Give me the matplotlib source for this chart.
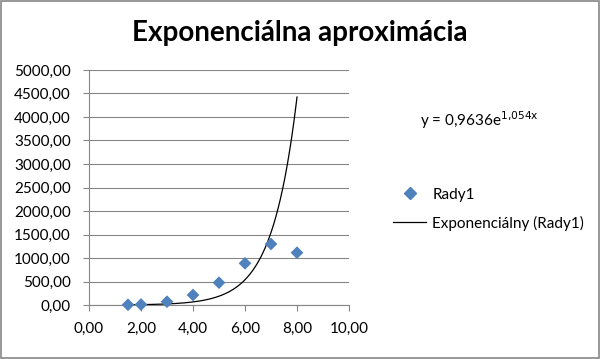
import numpy as np
import matplotlib.pyplot as plt
from matplotlib.ticker import FuncFormatter
from matplotlib.lines import Line2D

# data
x_vals = [1.5, 2, 3, 4, 5, 6, 7, 8]
y_vals = [5, 10, 70, 213, 475, 887, 1298, 1113]

# trendline coefficients as printed on the chart
coef_a = 0.9636
coef_b = 1.054

plt.rcParams['font.family'] = ['Lato', 'DejaVu Sans']


def comma_fmt(v, pos):
    return f"{v:.2f}".replace(".", ",")


fig = plt.figure(figsize=(6, 3.59), dpi=100)
ax = fig.add_axes([89/600, 1 - 305/359, 260/600, 235/359])

xt = np.linspace(min(x_vals), max(x_vals), 300)
ax.plot(xt, coef_a*np.exp(coef_b*xt), color="black", lw=0.9, zorder=3)
ax.scatter(x_vals, y_vals, marker="D", s=42, color="#4F81BD", zorder=4,
           edgecolors="none", clip_on=False)

ax.set_xlim(0, 10)
ax.set_ylim(0, 5000)
ax.set_xticks(np.arange(0, 10.1, 2))
ax.set_yticks(np.arange(0, 5001, 500))
ax.xaxis.set_major_formatter(FuncFormatter(comma_fmt))
ax.yaxis.set_major_formatter(FuncFormatter(comma_fmt))
ax.grid(axis="y", color="#868686", lw=0.8)
ax.set_axisbelow(True)
for s in ["top", "right"]:
    ax.spines[s].set_visible(False)
for s in ["left", "bottom"]:
    ax.spines[s].set_color("#868686")
    ax.spines[s].set_linewidth(0.8)
ax.tick_params(colors="#868686", labelcolor="black", labelsize=11, length=4,
               width=0.8)
ax.tick_params(axis="y", pad=9)
ax.tick_params(axis="x", pad=8)

fig.text(0.5, 1 - 33/359, "Exponenciálna aproximácia", ha="center",
         va="center", fontsize=20, fontweight="bold")
fig.text(420/600, 1 - 120/359, r"y = 0,9636e$^{\mathrm{1{,}054x}}$", ha="left",
         va="center", fontsize=11)

handles = [Line2D([], [], marker="D", color="#4F81BD", ls="none", ms=6),
           Line2D([], [], color="black", lw=0.9)]
fig.legend(handles, ["Rady1", "Exponenciálny (Rady1)"],
           loc="upper left", bbox_to_anchor=(379/600, 1 - 174/359),
           frameon=False, fontsize=11, handlelength=2.2, handletextpad=0.4,
           labelspacing=0.9)

border = plt.Rectangle((0.002, 0.003), 0.996, 0.994, transform=fig.transFigure,
                       fill=False, ec="#868686", lw=1.2)
fig.patches.append(border)

fig.savefig("out.png", dpi=100)
